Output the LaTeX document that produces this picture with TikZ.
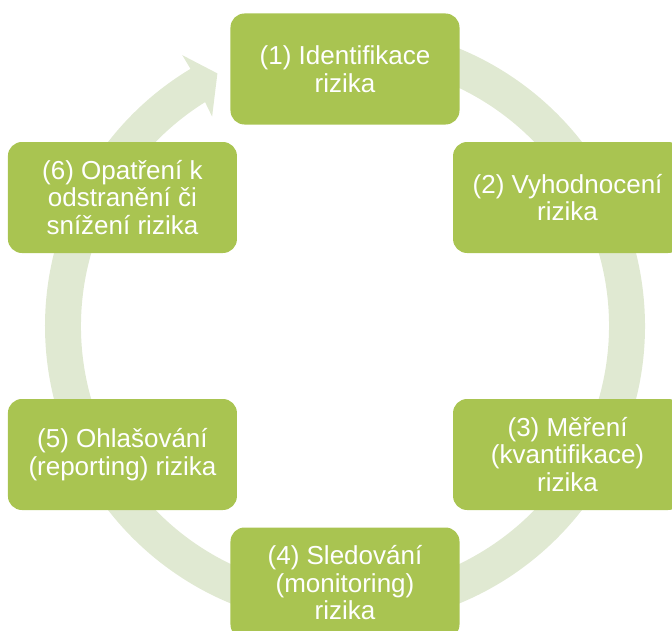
\documentclass[tikz,border=0pt]{standalone}
\usepackage{fontspec}
\setmainfont{Liberation Sans}
\usepackage{xcolor}
\usepackage{tikz}
\usetikzlibrary{positioning}

\definecolor{boxgreen}{RGB}{169,196,81}
\definecolor{ringgreen}{RGB}{224,233,210}

\begin{document}
\begin{tikzpicture}[
  x=1pt, y=1pt,
  phasebox/.style={fill=boxgreen, draw=none, rounded corners=14pt, minimum width=229pt, minimum height=111pt,
    inner sep=0pt, align=center, text=white, font=\fontsize{26}{27.5}\selectfont}
]
\useasboundingbox (-345,-304) rectangle (327,326);

% Circular arrow behind the boxes
\fill[ringgreen] (95:300) arc[start angle=95, end angle=-239, radius=300]
  -- (121:316) -- (116.8:283) -- (122.4:248) -- (122:264)
  arc[start angle=-238, end angle=95, radius=264] -- cycle;

% Phases of the risk cycle
\node[phasebox] (ident) at (90:257) {(1) Identifikace\\rizika};
\node[phasebox] (eval) at (30:257) {(2) Vyhodnocení\\rizika};
\node[phasebox] (meas) at (-30:257) {(3) Měření\\(kvantifikace)\\rizika};
\node[phasebox] (monit) at (-90:257) {(4) Sledování\\(monitoring)\\rizika};
\node[phasebox] (report) at (210:257) {(5) Ohlašování\\(reporting) rizika};
\node[phasebox] (action) at (150:257) {(6) Opatření k\\odstranění či\\snížení rizika};
\end{tikzpicture}
\end{document}
